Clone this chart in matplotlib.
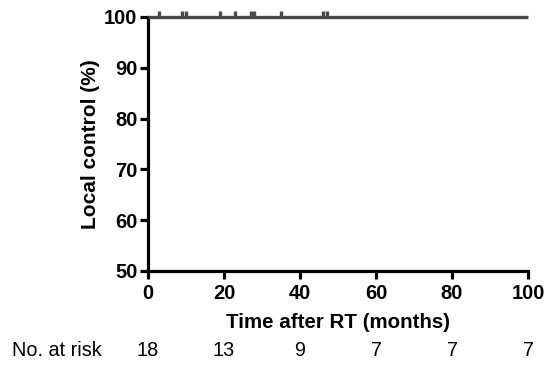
import matplotlib
matplotlib.use("Agg")
import matplotlib.pyplot as plt

# Data
km_times = [0, 100]
km_surv = [100, 100]
censor_times = [3, 9, 10, 19, 23, 27, 28, 35, 46, 47]
censor_surv = [100] * len(censor_times)
risk_times = [0, 20, 40, 60, 80, 100]
risk_counts = [18, 13, 9, 7, 7, 7]
xticks = [0, 20, 40, 60, 80, 100]
yticks = [50, 60, 70, 80, 90, 100]

plt.rcParams['font.family'] = ['Liberation Sans', 'DejaVu Sans']

fig = plt.figure(figsize=(5.45, 3.65), dpi=100)
ax = fig.add_axes([148/545, 1-271/365, (528-148)/545, (271-17)/365])

ax.step(km_times, km_surv, where='post', color='#4a4a4a', lw=2.4,
        clip_on=False, zorder=3, solid_capstyle='butt')
ax.plot(censor_times, [s + 0.6 for s in censor_surv], linestyle='none',
        marker='|', markersize=4, mew=2.4, color='#4a4a4a', clip_on=False, zorder=3)

ax.set_xlim(0, 100)
ax.set_ylim(50, 100)
ax.set_xticks(xticks)
ax.set_yticks(yticks)
for s in ['top', 'right']:
    ax.spines[s].set_visible(False)
for s in ['left', 'bottom']:
    ax.spines[s].set_linewidth(2.3)
    ax.spines[s].set_color('black')
ax.tick_params(direction='out', length=6, width=2.3, colors='black',
               labelsize=14.5, pad=1.5)
ax.tick_params(axis='x', pad=3.5)
for lab in ax.get_xticklabels() + ax.get_yticklabels():
    lab.set_fontweight('bold')

ax.set_xlabel('Time after RT (months)', fontsize=14.8, fontweight='bold', labelpad=7)
ax.set_ylabel('Local control (%)', fontsize=15, fontweight='bold', labelpad=3)

risk_y = 1 - 351/365
fig.text(12/545, risk_y, 'No. at risk', fontsize=14.3, ha='left', va='center')
for t, n in zip(risk_times, risk_counts):
    xd = ax.transData.transform((t, 50))[0]
    xf = fig.transFigure.inverted().transform((xd, 0))[0]
    fig.text(xf, risk_y, str(n), fontsize=14.3, ha='center', va='center')

fig.savefig('out.png', dpi=100)
